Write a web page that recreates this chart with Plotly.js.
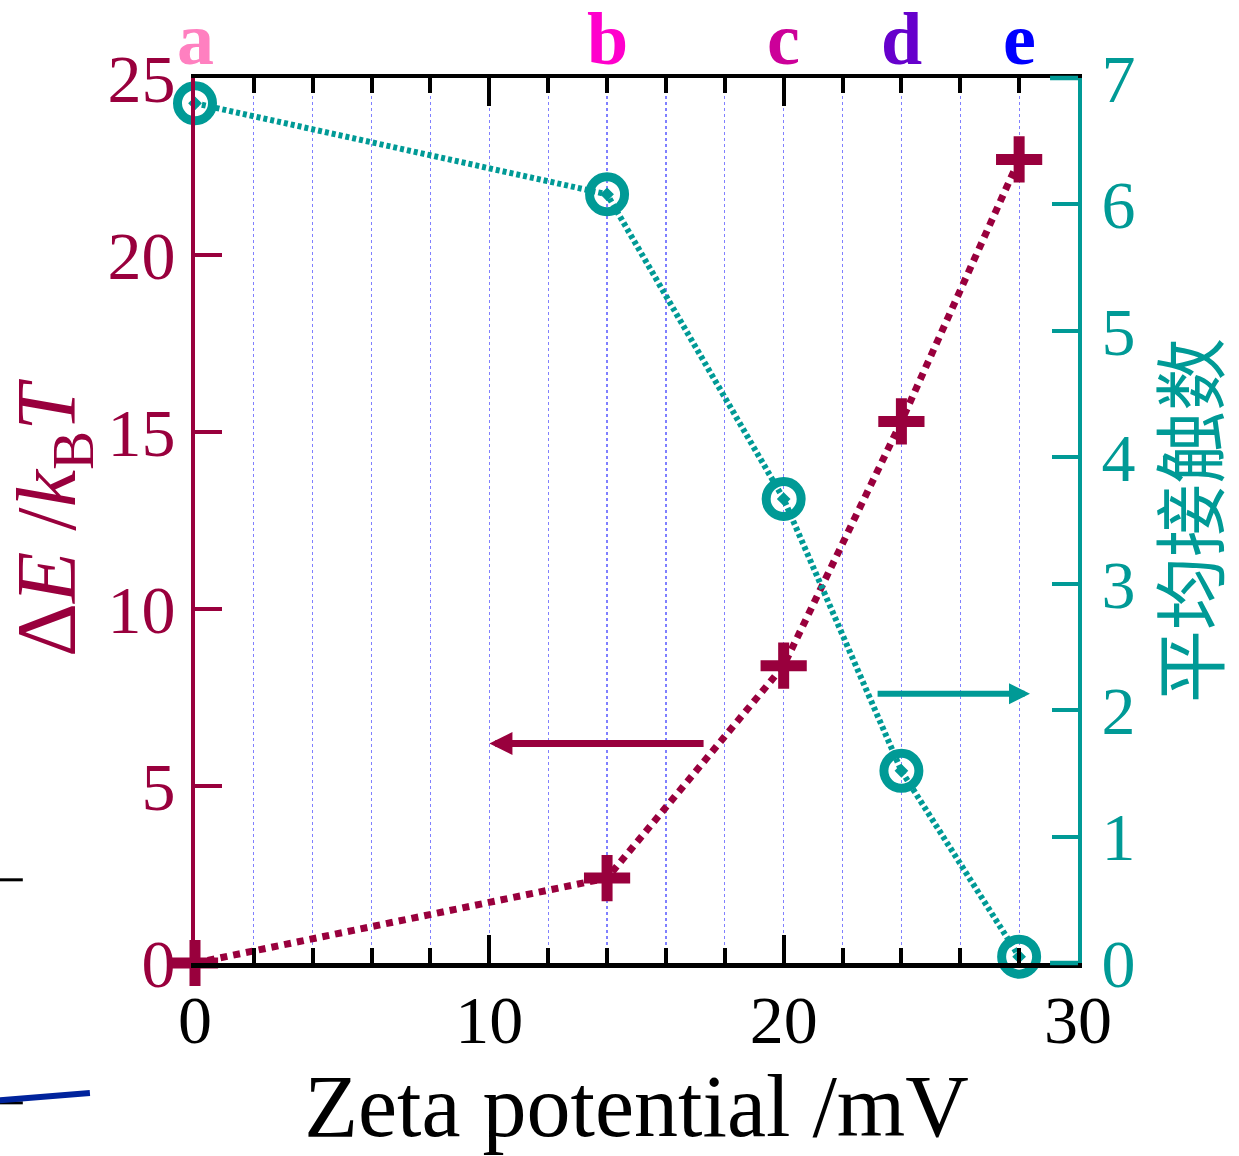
<!DOCTYPE html>
<html><head><meta charset="utf-8">
<script src="https://cdn.plot.ly/plotly-3.0.1.min.js"></script>
<style>html,body{margin:0;padding:0;background:#fff}</style>
</head><body><div id="chart" style="width:1239px;height:1156px"></div>
<script>
// ---- data ----
const zeta = [0, 14, 20, 24, 28];                 // Zeta potential /mV
const deltaE = [0, 2.4, 8.4, 15.3, 22.7];         // ΔE / kBT
const contacts = [6.8, 6.08, 3.67, 1.52, 0.05];   // 平均接触数
const stateLabels = ['a', 'b', 'c', 'd', 'e'];
const stateColors = ['#ff80c0', '#ff00cc', '#cc0099', '#6600cc', '#0000ff'];
const xTickVals = [0, 10, 20, 30];
const yLeftTicks = [0, 5, 10, 15, 20, 25];
const yRightTicks = [0, 1, 2, 3, 4, 5, 6, 7];

const CRIMSON = '#99003d';
const TEAL = '#009a96';
const SERIF = 'Liberation Serif, Times New Roman, serif';

const traces = [
  {
    x: zeta, y: deltaE, type: 'scatter', mode: 'lines+markers', yaxis: 'y',
    cliponaxis: false,
    line: {color: CRIMSON, width: 7, dash: '7px,6px'},
    marker: {symbol: 'cross-thin', size: 33, color: CRIMSON, line: {color: CRIMSON, width: 11}},
    showlegend: false, hoverinfo: 'skip'
  },
  {
    x: zeta, y: contacts, type: 'scatter', mode: 'lines+markers', yaxis: 'y2',
    cliponaxis: false,
    line: {color: TEAL, width: 6, dash: '4px,3px'},
    marker: {symbol: 'circle-open-dot', size: 35, color: TEAL, line: {color: TEAL, width: 9}},
    showlegend: false, hoverinfo: 'skip'
  }
];

const annotations = stateLabels.map((t, i) => ({
  x: zeta[i], y: 1, xref: 'x', yref: 'paper', yanchor: 'bottom', yshift: -4,
  text: '<b>' + t + '</b>', showarrow: false,
  font: {family: SERIF, size: 74, color: stateColors[i]}
}));
annotations.push({
  x: 10, y: 6.2, xref: 'x', yref: 'y', ax: 17.33, ay: 6.2, axref: 'x', ayref: 'y',
  text: '', showarrow: true, arrowhead: 2, arrowsize: 0.66, arrowwidth: 7, arrowcolor: CRIMSON
});
annotations.push({
  x: 28.37, y: 2.13, xref: 'x', yref: 'y2', ax: 23.14, ay: 2.13, axref: 'x', ayref: 'y2',
  text: '', showarrow: true, arrowhead: 2, arrowsize: 0.7, arrowwidth: 6, arrowcolor: TEAL
});

const shapes = [
  // teal ends of top/bottom frame near the right axis
  {type: 'line', xref: 'x', yref: 'paper', x0: 29.05, x1: 30, y0: 0, y1: 0, line: {color: TEAL, width: 4.5}, layer: 'above'},
  {type: 'line', xref: 'x', yref: 'paper', x0: 29.05, x1: 30, y0: 1, y1: 1, line: {color: TEAL, width: 4.5}, layer: 'above'},
  // stray fragments at the left edge of the picture
  {type: 'line', xref: 'paper', yref: 'paper', x0: -0.221, x1: -0.195, y0: 0.094, y1: 0.094, line: {color: 'black', width: 3}},
  {type: 'line', xref: 'paper', yref: 'paper', x0: -0.221, x1: -0.195, y0: -0.158, y1: -0.158, line: {color: 'black', width: 3}},
  {type: 'line', xref: 'paper', yref: 'paper', x0: -0.221, x1: -0.119, y0: -0.155, y1: -0.147, line: {color: '#00239c', width: 6}}
];

const layout = {
  width: 1239, height: 1156,
  margin: {l: 195, r: 161, t: 78, b: 193},
  paper_bgcolor: '#fff', plot_bgcolor: '#fff',
  showlegend: false,
  font: {family: SERIF},
  xaxis: {
    range: [0, 30], tickvals: xTickVals, ticktext: xTickVals.map(String),
    showline: true, linecolor: 'black', linewidth: 4.5, mirror: 'ticks',
    ticks: 'inside', ticklen: 28, tickwidth: 4, tickcolor: 'black',
    tickfont: {family: SERIF, size: 68, color: 'black'}, ticklabelstandoff: -6,
    showgrid: true, gridcolor: '#8080ff', gridwidth: 1.2, griddash: '3px,3px',
    zeroline: false,
    minor: {dtick: 2, tick0: 0, ticks: 'inside', ticklen: 15, tickwidth: 4, tickcolor: 'black',
            showgrid: true, gridcolor: '#8080ff', gridwidth: 1.2, griddash: '3px,3px'},
    title: {text: 'Zeta potential /mV', font: {family: SERIF, size: 88, color: 'black'}, standoff: 16}
  },
  yaxis: {
    range: [0, 25], tickvals: yLeftTicks, ticktext: yLeftTicks.map(String),
    showline: true, linecolor: CRIMSON, linewidth: 4,
    ticks: 'inside', ticklen: 27, tickwidth: 4, tickcolor: CRIMSON,
    tickfont: {family: SERIF, size: 68, color: CRIMSON}, ticklabelstandoff: 2,
    showgrid: false, zeroline: false,
    title: {text: 'Δ<i>E</i> /<i>k</i><sub>B</sub><i>T</i>', font: {family: SERIF, size: 84, color: CRIMSON}, standoff: 8}
  },
  yaxis2: {
    overlaying: 'y', side: 'right',
    range: [0, 7], tickvals: yRightTicks, ticktext: yRightTicks.map(String),
    showline: true, linecolor: TEAL, linewidth: 4,
    ticks: 'inside', ticklen: 26, tickwidth: 4, tickcolor: TEAL,
    tickfont: {family: SERIF, size: 68, color: TEAL}, ticklabelstandoff: 6,
    showgrid: false, zeroline: false,
    title: {text: '平均接触数', font: {family: 'Noto Sans CJK SC, sans-serif', size: 73, color: TEAL}, standoff: 19}
  },
  annotations: annotations,
  shapes: shapes
};

Plotly.newPlot('chart', traces, layout, {displayModeBar: false, staticPlot: true});
</script>
</body></html>
